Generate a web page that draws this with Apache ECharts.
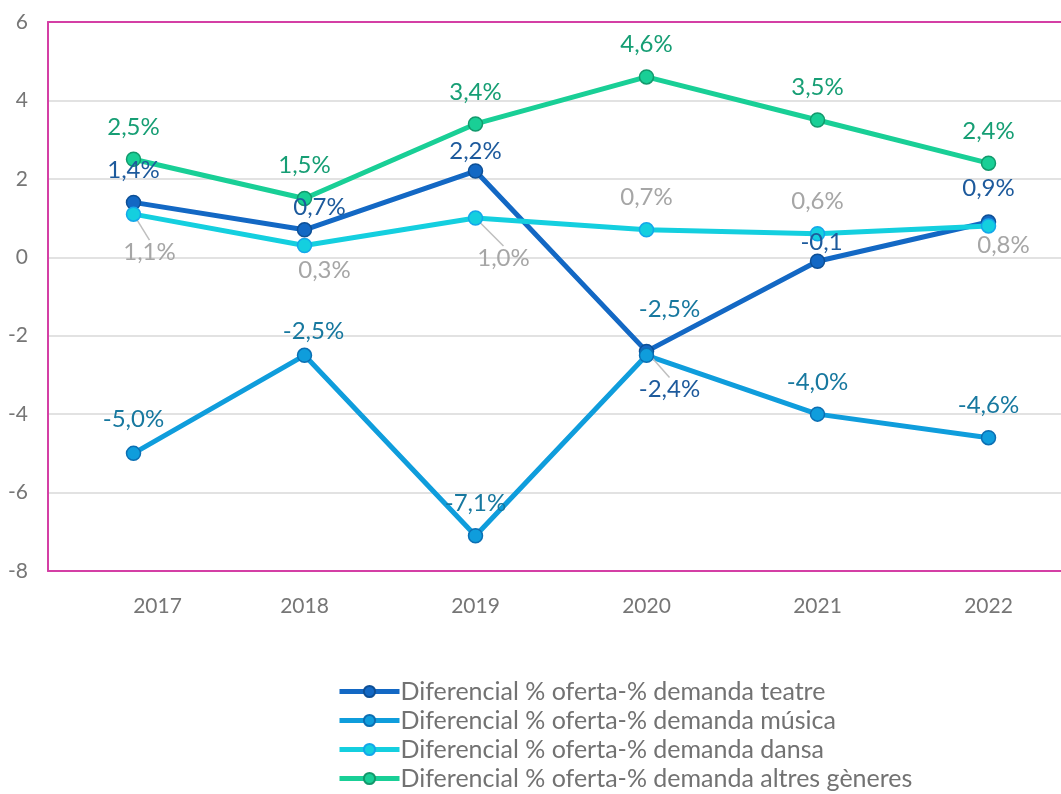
<!DOCTYPE html>
<html>
<head>
<meta charset="utf-8">
<script src="https://cdn.jsdelivr.net/npm/echarts@6/dist/echarts.min.js"></script>
<style>
  html, body { margin: 0; padding: 0; background: #fff; overflow: hidden; }
  #chart { width: 1075px; height: 794px; }
</style>
</head>
<body>
<div id="chart"></div>
<script>
// anys
var years = ['2017', '2018', '2019', '2020', '2021', '2022']

// valors (diferencial % oferta - % demanda)
var teatre = [1.4, 0.7, 2.2, -2.4, -0.1, 0.9]
var musica = [-5.0, -2.5, -7.1, -2.5, -4.0, -4.6]
var dansa = [1.1, 0.3, 1.0, 0.7, 0.6, 0.8]
var altres = [2.5, 1.5, 3.4, 4.6, 3.5, 2.4]

// textos de les etiquetes
var teatreLabels = ['1,4%', '0,7%', '2,2%', '-2,4%', '-0,1', '0,9%']
var musicaLabels = ['-5,0%', '-2,5%', '-7,1%', '-2,5%', '-4,0%', '-4,6%']
var dansaLabels = ['1,1%', '0,3%', '1,0%', '0,7%', '0,6%', '0,8%']
var altresLabels = ['2,5%', '1,5%', '3,4%', '4,6%', '3,5%', '2,4%']

var yTicks = [-8, -6, -4, -2, 0, 2, 4, 6]

// desplaçament de cada etiqueta respecte al punt (px)
var teatreOff = [[0, -32], [15, -23], [0, -20], [23, 38], [4, -19], [0, -34]]
var musicaOff = [[0, -34], [9, -24], [0, -32], [23, -46], [0, -32], [0, -32]]
var dansaOff = [[16, 38], [20, 25], [28, 40], [0, -33], [0, -32], [15, 19]]
var altresOff = [[0, -32], [0, -33], [0, -32], [0, -33], [0, -33], [0, -32]]
// punts amb línia guia
var teatreGuide = [false, false, false, true, false, false]
var dansaGuide = [true, false, true, false, false, false]
// l'etiqueta 2017 de l'eix està desplaçada a la dreta
var yearShift = [48, 0, 0, 0, 0, 0]

var FONT = 'Lato'
var BORDER = '#d43fa5'

function makeSeries (name, values, labels, offsets, guides, color, border, labelColor) {
  return {
    name: name,
    type: 'line',
    data: values.map(function (v, i) {
      return {
        value: v,
        labelLine: { show: guides ? guides[i] : false }
      }
    }),
    symbol: 'circle',
    symbolSize: 14,
    lineStyle: { color: color, width: 5 },
    itemStyle: { color: color, borderColor: border, borderWidth: 1.5 },
    label: {
      show: true,
      position: 'inside',
      color: labelColor,
      fontFamily: FONT,
      fontSize: 24,
      formatter: function (p) { return labels[p.dataIndex] }
    },
    labelLayout: function (p) {
      return { dx: offsets[p.dataIndex][0], dy: offsets[p.dataIndex][1] }
    },
    labelLine: {
      show: false,
      lineStyle: { color: '#bfbfbf', width: 1.5 }
    },
    emphasis: { disabled: true },
    animation: false
  }
}

var myChart = echarts.init(document.getElementById('chart'))
var option = {
  backgroundColor: '#ffffff',
  animation: false,
  grid: {
    left: 48,
    top: 22,
    width: 1026,
    height: 549
  },
  xAxis: [{
    type: 'category',
    data: years.map(function (y, i) {
      return { value: y, textStyle: { padding: [0, 0, 0, yearShift[i]] } }
    }),
    boundaryGap: true,
    axisLine: { show: true, onZero: false, lineStyle: { color: BORDER, width: 2 } },
    axisTick: { show: false },
    axisLabel: { color: '#767676', fontFamily: FONT, fontSize: 21, margin: 25 }
  }, {
    // vora superior
    type: 'category',
    position: 'top',
    data: years,
    axisLine: { show: true, onZero: false, lineStyle: { color: BORDER, width: 2 } },
    axisTick: { show: false },
    axisLabel: { show: false }
  }],
  yAxis: {
    type: 'value',
    min: yTicks[0],
    max: yTicks[yTicks.length - 1],
    interval: 2,
    axisLine: { show: true, onZero: false, lineStyle: { color: BORDER, width: 2 } },
    axisTick: { show: false },
    axisLabel: { color: '#767676', fontFamily: FONT, fontSize: 21, margin: 20 },
    splitLine: { lineStyle: { color: '#d9d9d9', width: 1.5 } }
  },
  legend: {
    orient: 'vertical',
    left: 332,
    top: 674,
    height: 160,
    itemWidth: 60,
    itemHeight: 14,
    itemGap: 4,
    lineStyle: { width: 5 },
    textStyle: { color: '#727272', fontFamily: FONT, fontSize: 25, lineHeight: 25, padding: [0, 0, 0, -4] },
    data: [
      'Diferencial % oferta-% demanda teatre',
      'Diferencial % oferta-% demanda música',
      'Diferencial % oferta-% demanda dansa',
      'Diferencial % oferta-% demanda altres gèneres'
    ]
  },
  series: [
    makeSeries('Diferencial % oferta-% demanda teatre', teatre, teatreLabels, teatreOff, teatreGuide, '#1368c4', '#0d4f96', '#1d5a9c'),
    makeSeries('Diferencial % oferta-% demanda música', musica, musicaLabels, musicaOff, null, '#0f9ddc', '#0b6fb3', '#17789f'),
    makeSeries('Diferencial % oferta-% demanda dansa', dansa, dansaLabels, dansaOff, dansaGuide, '#14cfdf', '#13a7ea', '#a6a6a6'),
    makeSeries('Diferencial % oferta-% demanda altres gèneres', altres, altresLabels, altresOff, null, '#19cf96', '#12996c', '#169e74')
  ]
}
myChart.setOption(option)
</script>
</body>
</html>
